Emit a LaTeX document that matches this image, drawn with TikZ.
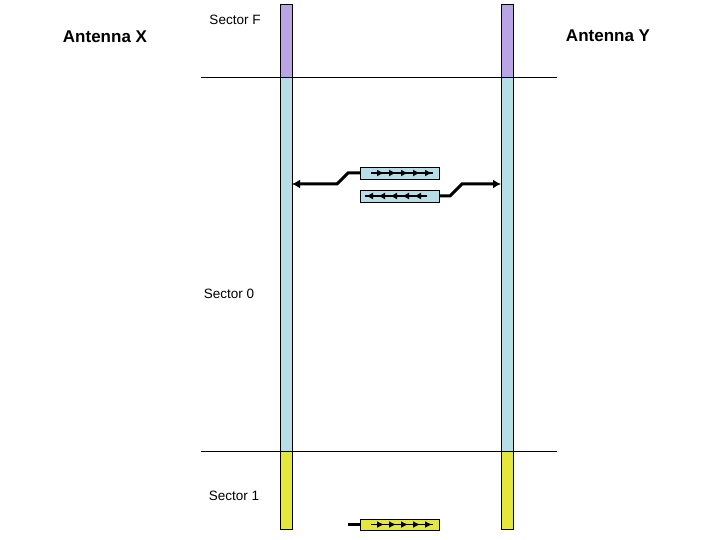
\documentclass[tikz,border=0pt]{standalone}
\usepackage{fontspec}
\setmainfont{Liberation Sans}
\usetikzlibrary{arrows.meta,decorations.markings,calc}
\definecolor{purpC}{RGB}{185,165,230}
\definecolor{blueC}{RGB}{183,222,230}
\definecolor{yelC}{RGB}{228,232,60}
\tikzset{
  bar/.style={draw=black,line width=0.8pt,minimum width=12pt,inner sep=0pt,outer sep=0pt},
  pkt/.style={draw=black,line width=0.8pt,minimum width=79pt,minimum height=12pt,inner sep=0pt,outer sep=0pt},
  conn/.style={line width=3pt,-{Latex[length=8pt,width=9pt]}},
  stub/.style={line width=3pt},
  sep/.style={line width=0.8pt},
  title/.style={font=\bfseries\fontsize{17}{19}\selectfont},
  seclbl/.style={font=\fontsize{13.5}{15}\selectfont},
  fwd/.style={line width=1.6pt,decoration={markings,
     mark=at position 13pt with {\arrow{Latex[length=7pt,width=7pt]}},
     mark=at position 25pt with {\arrow{Latex[length=7pt,width=7pt]}},
     mark=at position 37pt with {\arrow{Latex[length=7pt,width=7pt]}},
     mark=at position 49pt with {\arrow{Latex[length=7pt,width=7pt]}},
     mark=at position 61pt with {\arrow{Latex[length=7pt,width=7pt]}}},postaction={decorate}},
}
\begin{document}
\begin{tikzpicture}[x=1pt,y=-1pt]
\useasboundingbox (0,0) rectangle (720,540);
% bars antenna X
\node[bar,fill=purpC,minimum height=73pt] (xF) at (286,40.5) {};
\node[bar,fill=blueC,minimum height=374pt] (xS0) at (286,264) {};
\node[bar,fill=yelC,minimum height=78pt] (xS1) at (286,490) {};
% bars antenna Y
\node[bar,fill=purpC,minimum height=73pt] (yF) at (507,40.5) {};
\node[bar,fill=blueC,minimum height=374pt] (yS0) at (507,264) {};
\node[bar,fill=yelC,minimum height=78pt] (yS1) at (507,490) {};
% separators
\coordinate (s1a) at (201,77);
\coordinate (s1b) at (557,77);
\coordinate (s2a) at (201,451);
\coordinate (s2b) at (557,451);
\draw[sep] (s1a) -- (s1b);
\draw[sep] (s2a) -- (s2b);
% labels
\node[title] (antX) at (105,37) {Antenna X};
\node[title] (antY) at (608,36) {Antenna Y};
\node[seclbl] (secF) at (235,20) {Sector F};
\node[seclbl] (sec0) at (229,294) {Sector 0};
\node[seclbl] (sec1) at (234,496) {Sector 1};
% packets
\node[pkt,fill=blueC] (up) at (399.5,173) {};
\node[pkt,fill=blueC] (dn) at (399.5,196) {};
\node[pkt,fill=yelC,minimum height=11pt] (bt) at (399.5,524.5) {};
% inner arrows
\coordinate (ua) at (371,173);
\coordinate (ub) at (433,173);
\draw[fwd] (ua) -- (ub);
\coordinate (da) at (427,196);
\coordinate (db) at (365,196);
\draw[fwd] (da) -- (db);
\coordinate (ba) at (371,524.5);
\coordinate (bb) at (433,524.5);
\draw[fwd] (ba) -- (bb);
% connectors
\coordinate (ylev) at (0,184);
\draw[conn] (up.west) -- ++(-12,0) -- ++(-11,11) -- (xS0.east |- ylev);
\draw[conn] (dn.east) -- ++(11,0) -- ++(12,-12) -- (yS0.west |- ylev);
\coordinate (stubend) at (348,524.5);
\draw[stub] (stubend) -- (bt.west);
\end{tikzpicture}
\end{document}
